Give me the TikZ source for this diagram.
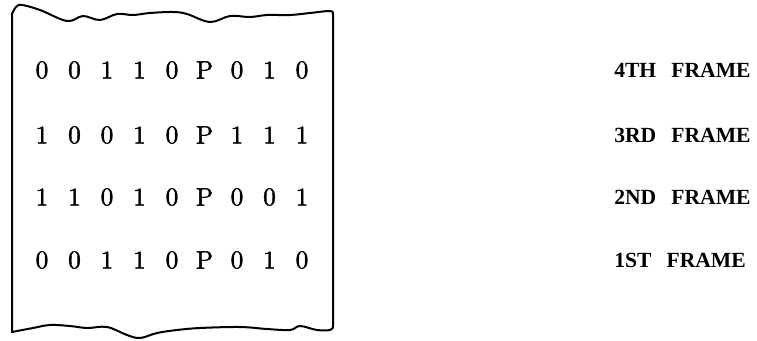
\documentclass[tikz,border=0pt]{standalone}
\usepackage{fontspec}
\newfontface\bitfont{lmroman10-regular}[Extension=.otf, FakeBold=1.6]
\newfontface\lblfont{Liberation Serif Bold}
\begin{document}
\begin{tikzpicture}[x=0.75pt, y=-0.75pt, line join=round, line cap=round,
    bit/.style={font=\bitfont\fontsize{19}{22}\selectfont, inner sep=0pt},
    lbl/.style={font=\lblfont\fontsize{16.2}{19}\selectfont, anchor=west, inner sep=0pt}]
    \useasboundingbox (0,0) rectangle (757,340);
    \def\xl{12} \def\xr{333} % left and right edge of the tape
    \def\pitch{32.5}         % character spacing
    % ============= TAPE
    \draw[line width=1.5pt] (\xl,330) -- (\xl,14)
        -- plot[smooth, tension=0.6] coordinates {(\xl,14) (16,7) (22,5) (40,10) (67,21) (83,16) (100,20) (117,14) (133,15) (150,13) (173,12) (187,14) (210,22) (230,16) (250,17) (267,15) (290,15) (310,13) (330,11) (\xr,14)}
        -- (\xr,327)
        -- plot[smooth, tension=0.6] coordinates {(\xr,327) (330,330) (317,330) (300,326) (290,330) (267,329) (240,327) (200,328) (177,330) (157,333) (140,338) (127,335) (107,327) (87,328) (70,326) (50,325) (33,328) (\xl,332)}
        -- cycle;
    % ============= FRAMES
    \foreach \r/\y/\bits in {4/70/{0,0,1,1,0,P,0,1,0}, 3/135/{1,0,0,1,0,P,1,1,1}, 2/197/{1,1,0,1,0,P,0,0,1}, 1/260/{0,0,1,1,0,P,0,1,0}}{
        \foreach \c [count=\k] in \bits {\node[bit] (r\r c\k) at ({42+(\k-1)*\pitch}, \y) {\c};}
    }
    \foreach \r/\y/\t in {4/70/4TH, 3/135/3RD, 2/197/2ND, 1/260/1ST}{\node[lbl] (f\r) at (614,\y) {\t\ \hspace{0.45em}FRAME};}
\end{tikzpicture}
\end{document}
